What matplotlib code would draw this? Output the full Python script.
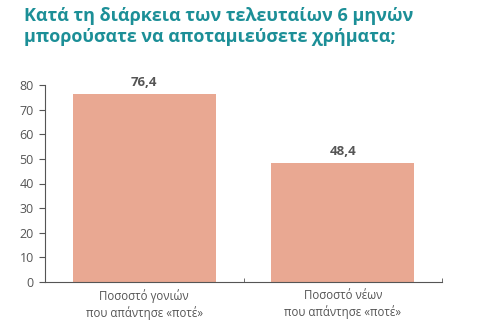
import numpy as np
import matplotlib.pyplot as plt
from matplotlib.ticker import FixedLocator

# --- Data ---
categories = ["Ποσοστό γονιών\nπου απάντησε «ποτέ»", "Ποσοστό νέων\nπου απάντησε «ποτέ»"]
values = [76.4, 48.4]
value_labels = ["76,4", "48,4"]
yticks = [0, 10, 20, 30, 40, 50, 60, 70, 80]

plt.rcParams['font.family'] = ['Open Sans', 'DejaVu Sans']

fig = plt.figure(figsize=(4.9, 3.27), dpi=100)
ax = fig.add_axes([45 / 490, (327 - 282) / 327, (442 - 45) / 490, (282 - 85) / 327])

x = np.arange(len(values))
ax.bar(x, values, width=0.72, color="#e9a892", zorder=2)

for xi, v, lab in zip(x, values, value_labels):
    ax.text(xi, v + 2.0, lab, ha="center", va="bottom", fontsize=9.5,
            fontweight="bold", color="#555555")

ax.set_xlim(-0.5, 1.5)
ax.set_ylim(0, 80)
ax.set_yticks(yticks)
ax.set_xticks(x)
ax.set_xticklabels(categories, fontsize=8.3, color="#555555", linespacing=1.3)
ax.tick_params(axis="x", length=0, pad=5)
ax.xaxis.set_minor_locator(FixedLocator([0.5, 1.5]))
ax.tick_params(axis="x", which="minor", direction="in", length=3, color="#555555")
ax.tick_params(axis="y", labelsize=9, colors="#555555", length=4, width=0.8, pad=4)

for s in ["top", "right"]:
    ax.spines[s].set_visible(False)
for s in ["left", "bottom"]:
    ax.spines[s].set_color("#555555")
    ax.spines[s].set_linewidth(0.8)

fig.text(24 / 490, 1 - 7 / 327, "Κατά τη διάρκεια των τελευταίων 6 μηνών\nμπορούσατε να αποταμιεύσετε χρήματα;",
         ha="left", va="top", fontsize=13, fontweight="bold", color="#1c8f97",
         linespacing=1.25)

fig.savefig("out.png", dpi=100)
